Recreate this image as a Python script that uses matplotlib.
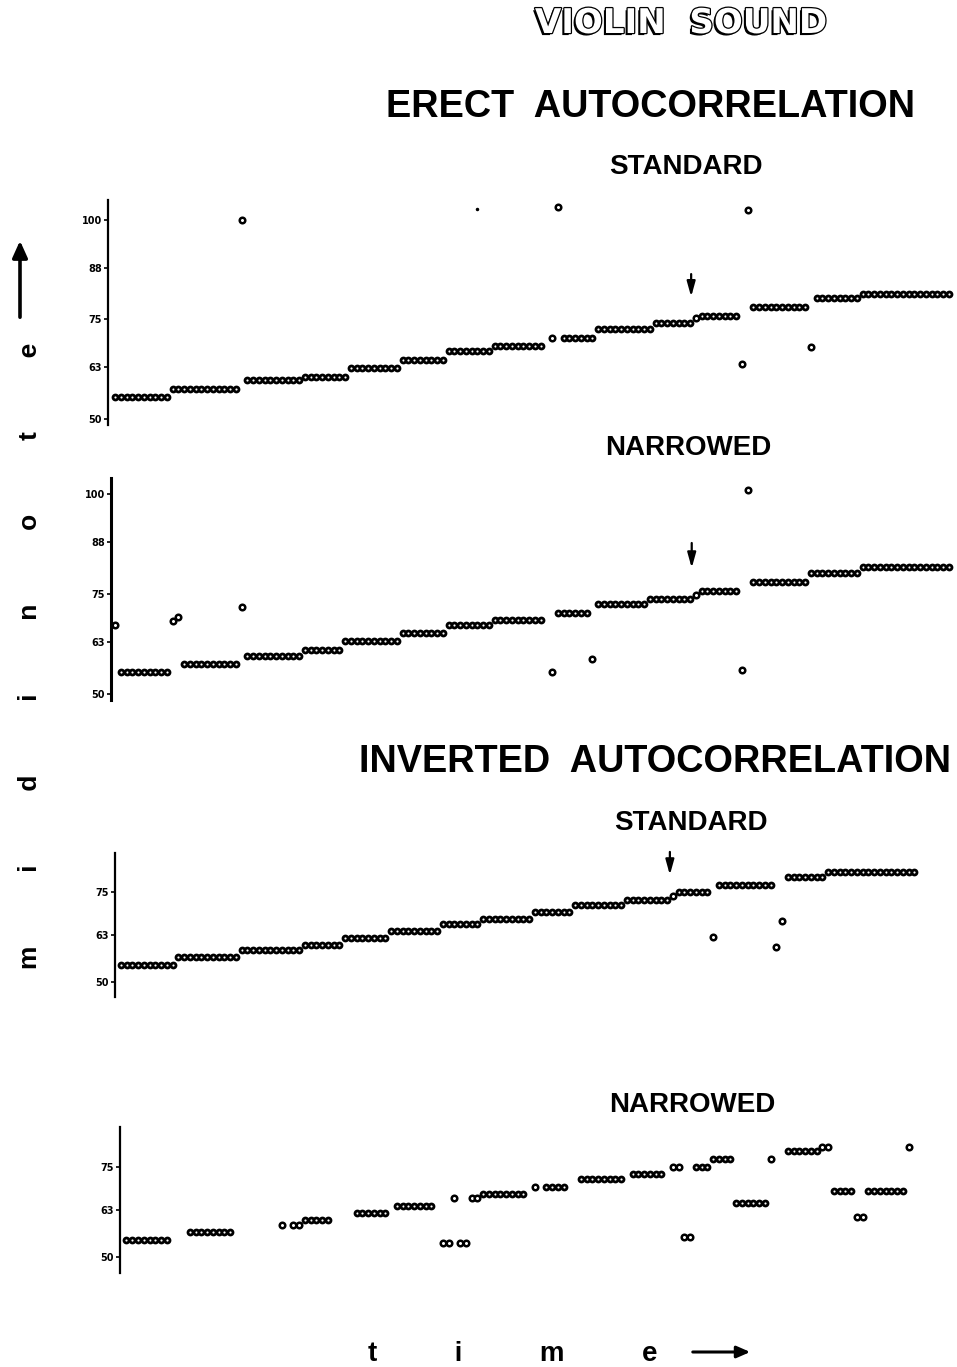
import matplotlib
matplotlib.use("Agg")
import matplotlib.pyplot as plt
import matplotlib.patheffects as pe
import numpy as np

W, H = 957, 1367

# ---- erect autocorrelation, standard (runs of frames on one note + stray frames)
es_start = [0, 10, 23, 33, 41, 50, 58, 66, 78, 84, 94, 102, 111, 122, 130]
es_end = [9, 21, 32, 40, 49, 57, 65, 74, 83, 93, 100, 108, 120, 129, 145]
es_note = [55.5, 57.5, 59.8, 60.6, 62.8, 64.8, 67.1, 68.3, 70.4, 72.6, 74.1, 75.9, 78.1, 80.4, 81.4]
es_pt_t = [22, 76, 77, 101, 109, 110, 121]
es_pt_note = [100.0, 70.4, 103.3, 75.4, 63.8, 102.5, 68.1]

# ---- erect autocorrelation, narrowed
en_start = [1, 12, 23, 33, 40, 50, 58, 66, 77, 84, 93, 102, 111, 121, 130]
en_end = [9, 21, 32, 39, 49, 57, 65, 74, 82, 92, 100, 108, 120, 129, 145]
en_note = [55.5, 57.5, 59.5, 61.0, 63.25, 65.25, 67.25, 68.5, 70.25, 72.5, 73.75, 75.75, 78.0, 80.25, 81.75]
en_pt_t = [0, 10, 11, 22, 76, 83, 101, 109, 110]
en_pt_note = [67.25, 68.25, 69.25, 71.75, 55.5, 58.75, 74.75, 56.0, 101.0]

# ---- inverted autocorrelation, standard
is_start = [1, 11, 22, 33, 40, 48, 57, 64, 73, 80, 89, 98, 105, 117, 124]
is_end = [10, 21, 32, 39, 47, 56, 63, 72, 79, 88, 96, 103, 114, 123, 139]
is_note = [54.7, 56.9, 58.9, 60.3, 62.2, 64.2, 66.1, 67.5, 69.4, 71.4, 72.8, 75.0, 76.9, 79.2, 80.6]
is_pt_t = [97, 104, 115, 116]
is_pt_note = [73.9, 62.5, 59.7, 66.9]

# ---- inverted autocorrelation, narrowed
in_start = [2, 13, 33, 42, 49, 64, 75, 81, 90, 101, 104, 108, 117, 125, 131]
in_end = [9, 20, 37, 47, 55, 71, 78, 88, 95, 103, 107, 113, 122, 128, 137]
in_note = [54.7, 56.9, 60.3, 62.2, 64.2, 67.5, 69.4, 71.7, 73.1, 75.0, 77.2, 65.0, 79.4, 68.3, 68.3]
in_pt_t = [29, 31, 32, 57, 58, 59, 60, 61, 62, 63, 73, 97, 98, 99, 100, 114, 123, 124, 129, 130, 138]
in_pt_note = [58.9, 58.9, 58.9, 53.9, 53.9, 66.4, 53.9, 53.9, 66.4, 66.4, 69.4, 75.0, 75.0, 55.6, 55.6,
              77.2, 80.6, 80.6, 61.1, 61.1, 80.6]

ticks_erect = [50, 63, 75, 88, 100]
ticks_inv = [50, 63, 75]


def runs_to_points(start, end, note):
    t = np.concatenate([np.arange(s, e + 1) for s, e in zip(start, end)])
    v = np.concatenate([np.full(e - s + 1, n) for s, e, n in zip(start, end, note)])
    return t, v


def px_axes(fig, l, t, r, b):
    return fig.add_axes([l / W, 1 - b / H, (r - l) / W, (b - t) / H])


def panel(fig, box, ylim, ticks, start, end, note, pt_t, pt_note, arrow=None, spine_w=1.6):
    ax = px_axes(fig, *box)
    t, v = runs_to_points(start, end, note)
    ax.plot(t, v, ls="none", marker="o", ms=3.6, mfc="white", mec="black", mew=2.0)
    ax.plot(pt_t, pt_note, ls="none", marker="o", ms=4.0, mfc="white", mec="black", mew=1.8)
    ax.set_xlim((box[0] - 115) / 5.75, (W - 115) / 5.75)
    ax.set_ylim(*ylim)
    for s in ["top", "right", "bottom"]:
        ax.spines[s].set_visible(False)
    ax.spines["left"].set_linewidth(spine_w)
    ax.set_xticks([])
    ax.set_yticks(ticks)
    ax.set_yticklabels([str(k) for k in ticks], fontsize=7, fontweight="bold")
    ax.tick_params(axis="y", length=3, width=1.2, pad=1.5)
    ax.patch.set_alpha(0)
    if arrow is not None:
        x, y0, y1 = arrow
        ax.annotate("", xy=(x, y1), xytext=(x, y0),
                    arrowprops=dict(arrowstyle="-|>,head_length=0.9,head_width=0.25",
                                    color="black", lw=1.6, shrinkA=0, shrinkB=0))
    return ax


fig = plt.figure(figsize=(W / 100, H / 100), dpi=100)

ax1 = panel(fig, (108, 200, W, 425), (48.5, 105.0), ticks_erect,
            es_start, es_end, es_note, es_pt_t, es_pt_note, arrow=(100.2, 86.4, 80.7))
ax1.plot([63], [102.8], ls="none", marker="o", ms=1.5, color="black")  # speck

panel(fig, (111, 478, W, 700), (48.5, 104.0), ticks_erect,
      en_start, en_end, en_note, en_pt_t, en_pt_note, arrow=(100.3, 87.75, 81.5), spine_w=2.2)
panel(fig, (115, 853, W, 997), (45.8, 85.8), ticks_inv,
      is_start, is_end, is_note, is_pt_t, is_pt_note, arrow=(96.5, 86.1, 79.7))
panel(fig, (120, 1127, W, 1273), (45.6, 86.1), ticks_inv,
      in_start, in_end, in_note, in_pt_t, in_pt_note)


def ftext(x, y, s, **kw):
    return fig.text(x / W, 1 - y / H, s, **kw)


# headline in hollow shadowed letters
ftext(681, 33, "VIOLIN  SOUND", fontsize=24.5, fontweight="bold", family="DejaVu Sans",
      color="white", ha="center", va="baseline",
      path_effects=[pe.SimplePatchShadow(offset=(-1.5, -1.5), shadow_rgbFace="black", alpha=1),
                    pe.Stroke(linewidth=1.8, foreground="black"), pe.Normal()])

big = dict(fontsize=27.3, fontweight="bold", family="Liberation Sans", ha="center", va="baseline")
sub = dict(fontsize=20, fontweight="bold", family="Liberation Sans", ha="center", va="baseline")
ftext(650, 117, "ERECT  AUTOCORRELATION", **big)
ftext(686, 174, "STANDARD", **sub)
ftext(688, 455, "NARROWED", **sub)
ftext(655, 772, "INVERTED  AUTOCORRELATION", **big)
ftext(691, 830, "STANDARD", **sub)
ftext(692, 1112, "NARROWED", **sub)

gap = " " * 10
ftext(368, 1367, gap.join("time"), fontsize=20, fontweight="bold", family="Liberation Sans",
      ha="left", va="bottom")
ftext(30, 656, gap.join("midinote"), fontsize=19, fontweight="bold", family="Liberation Sans",
      ha="center", va="center", rotation=90)

fig.add_artist(matplotlib.patches.FancyArrowPatch(
    (690 / W, 1 - 1352 / H), (753 / W, 1 - 1352 / H), transform=fig.transFigure,
    arrowstyle="-|>,head_length=8,head_width=3.5", color="black", lw=2.2))
fig.add_artist(matplotlib.patches.FancyArrowPatch(
    (20 / W, 1 - 320 / H), (20 / W, 1 - 238 / H), transform=fig.transFigure,
    arrowstyle="-|>,head_length=10,head_width=4.5", color="black", lw=2.6))

fig.savefig("out.png", dpi=100)
